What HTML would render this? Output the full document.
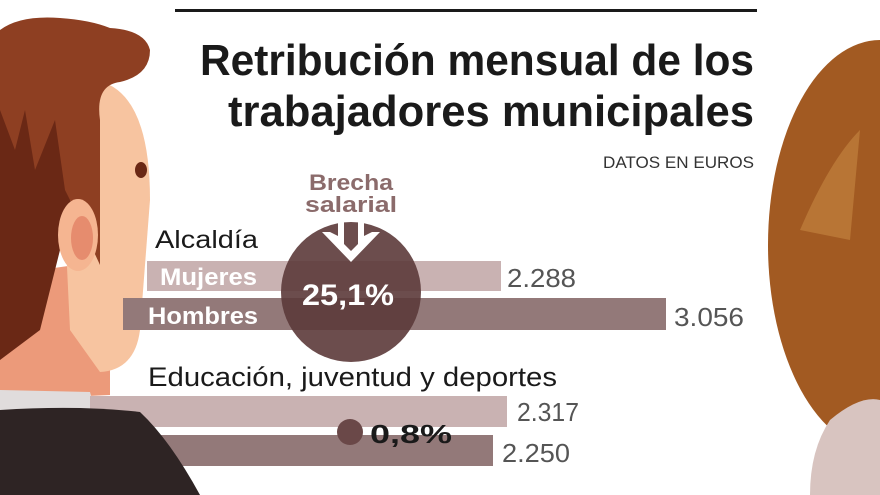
<!DOCTYPE html>
<html><head><meta charset="utf-8"><style>
html,body{margin:0;padding:0;background:#fff}
svg{display:block}
text{font-family:"Liberation Sans",sans-serif}
</style></head><body>
<svg width="880" height="495" viewBox="0 0 880 495" xmlns="http://www.w3.org/2000/svg">
<rect width="880" height="495" fill="#fff"/>
<!-- right woman -->
<ellipse cx="880" cy="245" rx="112" ry="205" fill="#a25a22"/>
<path d="M800 230 Q830 160 860 130 L850 240 Z" fill="#b87535"/>
<path d="M830 420 Q860 395 880 400 L880 495 L810 495 Q810 450 830 420Z" fill="#d8c4c0"/>
<!-- left man -->
<path d="M40 270 L110 260 L110 395 L0 400 L0 300Z" fill="#ec9a7a"/>
<path d="M95 80 Q150 90 150 200 L140 330 Q135 370 100 372 L70 330 L60 120Z" fill="#f7c4a0"/>
<path d="M0 30 Q20 15 60 18 Q90 20 110 28 Q145 30 150 50 Q150 75 120 82 Q95 85 100 120 L100 265 L70 200 Q60 200 55 260 L0 360Z" fill="#8e3f22"/>
<path d="M0 110 L15 150 L25 110 L35 170 L55 120 L65 190 L80 220 L60 250 L40 330 L0 360Z" fill="#6a2815"/>
<ellipse cx="78" cy="235" rx="20" ry="36" fill="#f5b591"/>
<ellipse cx="82" cy="238" rx="11" ry="22" fill="#e68c6e"/>
<ellipse cx="141" cy="170" rx="6" ry="8" fill="#6a2815"/>
<path d="M0 390 L90 392 L95 410 L0 412Z" fill="#e0dcdc"/>
<!-- top rule -->
<rect x="175" y="9" width="582" height="3" fill="#1a1a1a"/>
<!-- title -->
<text x="754" y="75" text-anchor="end" font-size="44" font-weight="bold" fill="#1a1a1a" textLength="554" lengthAdjust="spacingAndGlyphs">Retribución mensual de los</text>
<text x="754" y="126" text-anchor="end" font-size="44" font-weight="bold" fill="#1a1a1a" textLength="526" lengthAdjust="spacingAndGlyphs">trabajadores municipales</text>
<text x="754" y="168" text-anchor="end" font-size="17" fill="#333" textLength="151" lengthAdjust="spacingAndGlyphs">DATOS EN EUROS</text>
<!-- brecha -->
<text x="351" y="190" text-anchor="middle" font-size="22" font-weight="bold" fill="#8b6b6b" textLength="84" lengthAdjust="spacingAndGlyphs">Brecha</text>
<text x="351" y="212" text-anchor="middle" font-size="22" font-weight="bold" fill="#8b6b6b" textLength="92" lengthAdjust="spacingAndGlyphs">salarial</text>
<text x="155" y="248" font-size="25" fill="#1a1a1a" textLength="103" lengthAdjust="spacingAndGlyphs">Alcaldía</text>
<!-- bars alcaldia -->
<rect x="147" y="261" width="354" height="30" fill="#c9b2b2"/>
<rect x="123" y="298" width="543" height="32" fill="#937979"/>
<text x="160" y="285" font-size="24" font-weight="bold" fill="#fff" textLength="97" lengthAdjust="spacingAndGlyphs">Mujeres</text>
<text x="148" y="324" font-size="24" font-weight="bold" fill="#fff" textLength="110" lengthAdjust="spacingAndGlyphs">Hombres</text>
<circle cx="351" cy="292" r="70" fill="#5c3a3a" fill-opacity="0.9"/>
<path d="M338 222 L338 236 L330 232 L322 232 L351 262 L380 232 L372 232 L364 236 L364 222 L358 222 L358 244 L351 251 L344 244 L344 222Z" fill="#fff"/>
<text x="348" y="305" text-anchor="middle" font-size="30" font-weight="bold" fill="#fff" textLength="92" lengthAdjust="spacingAndGlyphs">25,1%</text>
<text x="507" y="287" font-size="26" fill="#555" textLength="69" lengthAdjust="spacingAndGlyphs">2.288</text>
<text x="674" y="326" font-size="26" fill="#555" textLength="70" lengthAdjust="spacingAndGlyphs">3.056</text>
<!-- educacion -->
<text x="148" y="386" font-size="27" fill="#1a1a1a" textLength="409" lengthAdjust="spacingAndGlyphs">Educación, juventud y deportes</text>
<rect x="90" y="396" width="417" height="31" fill="#c9b2b2"/>
<rect x="150" y="435" width="343" height="31" fill="#937979"/>
<circle cx="350" cy="432" r="13" fill="#6a4848"/>
<text x="370" y="443" font-size="26" font-weight="bold" fill="#1a1a1a" textLength="82" lengthAdjust="spacingAndGlyphs">0,8%</text>
<text x="517" y="421" font-size="26" fill="#555" textLength="62" lengthAdjust="spacingAndGlyphs">2.317</text>
<text x="502" y="462" font-size="26" fill="#555" textLength="68" lengthAdjust="spacingAndGlyphs">2.250</text>
<!-- jacket overlaps lower bars -->
<path d="M0 410 Q80 405 140 412 Q170 440 200 495 L0 495Z" fill="#2e2424"/>
</svg>
</body></html>
